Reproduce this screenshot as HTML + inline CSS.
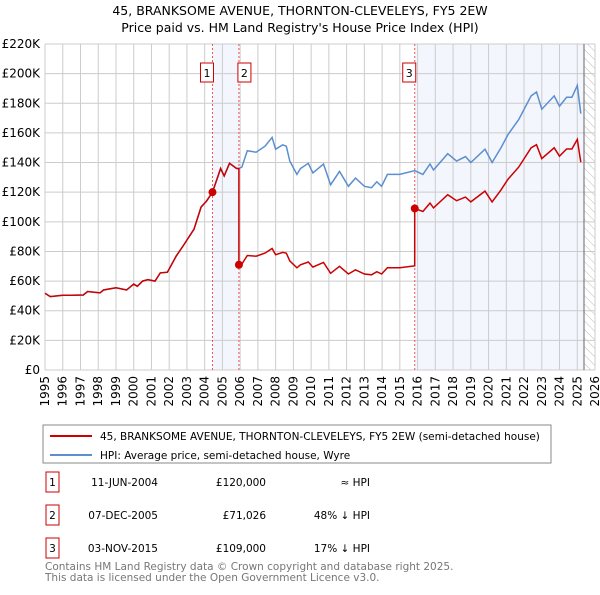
<!DOCTYPE html>
<html><head><meta charset="utf-8"><style>
body{margin:0;background:#fff;font-family:"Liberation Sans","DejaVu Sans",sans-serif;}
svg text{font-family:"DejaVu Sans","Liberation Sans",sans-serif;}
</style></head><body>
<svg id="chart" width="600" height="590" xmlns="http://www.w3.org/2000/svg">
<defs><pattern id="hatch" width="6" height="6" patternUnits="userSpaceOnUse" patternTransform="rotate(-45)"><line x1="0" y1="0" x2="0" y2="6" stroke="#bbb" stroke-width="1"/></pattern></defs>
<text x="300" y="15" text-anchor="middle" font-size="12.5" fill="#000">45, BRANKSOME AVENUE, THORNTON-CLEVELEYS, FY5 2EW</text>
<text x="300" y="32" text-anchor="middle" font-size="12.5" fill="#000">Price paid vs. HM Land Registry's House Price Index (HPI)</text>
<g id="bg"></g><g id="grid"></g><g id="series"></g><g id="axes"></g>
<rect x="43" y="425" width="508" height="38" fill="#fff" stroke="#888"/>
<line x1="50" y1="436" x2="92" y2="436" stroke="#cc0000" stroke-width="2"/>
<text x="100" y="440" font-size="10.5">45, BRANKSOME AVENUE, THORNTON-CLEVELEYS, FY5 2EW (semi-detached house)</text>
<line x1="50" y1="455" x2="92" y2="455" stroke="#5b8fd0" stroke-width="2"/>
<text x="100" y="459" font-size="10.5">HPI: Average price, semi-detached house, Wyre</text>
<g id="table" font-size="10.5"></g>
<text x="45" y="570" font-size="10.5" fill="#777">Contains HM Land Registry data © Crown copyright and database right 2025.</text>
<text x="45" y="581" font-size="10.5" fill="#777">This data is licensed under the Open Government Licence v3.0.</text>
</svg>
<script>
const hpiYears=[1995.0,1995.3,1996.0,1996.5,1997.16,1997.4,1998.1,1998.3,1999.0,1999.6,2000.0,2000.2,2000.5,2000.8,2001.2,2001.5,2001.9,2002.4,2002.8,2003.4,2003.8,2004.1,2004.44,2004.9,2005.1,2005.4,2005.8,2005.93,2006.1,2006.4,2006.9,2007.4,2007.8,2008.0,2008.4,2008.6,2008.8,2009.2,2009.4,2009.84,2010.1,2010.7,2011.1,2011.6,2012.1,2012.5,2013.0,2013.4,2013.7,2013.97,2014.3,2015.0,2015.84,2016.3,2016.7,2016.9,2017.7,2018.2,2018.7,2019.0,2019.8,2020.2,2020.7,2021.1,2021.7,2022.4,2022.7,2023.0,2023.7,2024.0,2024.4,2024.7,2025.0,2025.2];
const hpiValues=[51.8,49.5,50.5,50.5,50.6,53,52,54,55.5,54,58,56.5,60,61,60,65.5,66,77,84,95,110,114,120,136,131,139.5,136,136,137,148,147,151,157,149,152,151,141,132,136,139.5,133,139,125,134,124,129.5,124,123,127,124,132,132,134.5,132,139,135,146,141,144,140,149,140,150,159,169,185,187.6,176,185,178,184,184,192,173];
const saleYears=[2004.44,2005.93,2015.84];
const salePrices=[120,71.026,109];
const saleLabels=["1","2","3"];
const saleDates=["11-JUN-2004","07-DEC-2005","03-NOV-2015"];
const salePriceText=["£120,000","£71,026","£109,000"];
const saleHpiText=["≈ HPI","48% ↓ HPI","17% ↓ HPI"];
const yTicks=[0,20,40,60,80,100,120,140,160,180,200,220];
const xTicks=[1995,1996,1997,1998,1999,2000,2001,2002,2003,2004,2005,2006,2007,2008,2009,2010,2011,2012,2013,2014,2015,2016,2017,2018,2019,2020,2021,2022,2023,2024,2025,2026];
const dataEnd=2025.38;

const X0=45,X1=595,Y0=370,Y1=44;
const sx=y=>X0+(y-1995)/(2026-1995)*(X1-X0);
const sy=v=>Y0-v/220*(Y0-Y1);
const NS="http://www.w3.org/2000/svg";
function mk(parent,tag,attrs){const e=document.createElementNS(NS,tag);for(const k in attrs)e.setAttribute(k,attrs[k]);document.getElementById(parent).appendChild(e);return e;}
function hpiAt(t){for(let i=0;i<hpiYears.length-1;i++){if(t>=hpiYears[i]&&t<=hpiYears[i+1]){const f=(t-hpiYears[i])/(hpiYears[i+1]-hpiYears[i]);return hpiValues[i]+f*(hpiValues[i+1]-hpiValues[i]);}}return hpiValues[hpiValues.length-1];}

let r=mk('bg','rect',{x:sx(saleYears[0]),y:Y1,width:sx(saleYears[1])-sx(saleYears[0]),height:Y0-Y1,fill:'#f3f6fd'});

r=mk('bg','rect',{x:sx(saleYears[2]),y:Y1,width:sx(dataEnd)-sx(saleYears[2]),height:Y0-Y1,fill:'#f3f6fd'});

r=mk('bg','rect',{x:sx(dataEnd),y:Y1,width:X1-sx(dataEnd),height:Y0-Y1,fill:'url(#hatch)'});


yTicks.forEach(v=>{let l=mk('grid','line',{x1:X0,x2:X1,y1:sy(v),y2:sy(v),stroke:'#ccc','stroke-width':1});

let t=mk('axes','text',{x:X0-5,y:sy(v)+4,'text-anchor':'end','font-size':'12'});t.textContent=v===0?'£0':'£'+v+'K';
});
xTicks.forEach(y=>{let l=mk('grid','line',{x1:sx(y),x2:sx(y),y1:Y1,y2:Y0,stroke:'#ccc','stroke-width':1});

let t=mk('axes','text',{x:0,y:0,'text-anchor':'end','font-size':'12',transform:`translate(${sx(y)+4},${Y0+6}) rotate(-90)`});t.textContent=y;
});
let fl=mk('grid','line',{x1:sx(dataEnd),x2:sx(dataEnd),y1:Y1,y2:Y0,stroke:'#666','stroke-width':1});


saleYears.forEach((s,i)=>{let l=mk('series','line',{x1:sx(s),x2:sx(s),y1:Y1,y2:Y0,stroke:'#ee5555','stroke-width':1,'stroke-dasharray':'2,2'});

let b=mk('series','rect',{x:sx(s)-(i==1?1:12),y:63,width:13,height:19,fill:'#fff',stroke:'#cc0000'});

let t=mk('series','text',{x:sx(s)-(i==1?1:12)+6.5,y:77,'text-anchor':'middle','font-size':'11'});t.textContent=saleLabels[i];
});

let d=hpiYears.map((y,i)=>(i?'L':'M')+sx(y).toFixed(1)+','+sy(hpiValues[i]).toFixed(1)).join('');
let hp=mk('series','path',{d:d,fill:'none',stroke:'#5b8fd0','stroke-width':1.5});

let pts=[];
hpiYears.forEach((y,i)=>{let k=-1;for(let j=0;j<saleYears.length;j++)if(y>=saleYears[j])k=j;
let ratio=k<0?salePrices[0]/hpiAt(saleYears[0]):salePrices[k]/hpiAt(saleYears[k]);
if(k>=1&&Math.abs(y-saleYears[k])<1e-9){let pr=salePrices[k-1]/hpiAt(saleYears[k-1]);pts.push([y,hpiValues[i]*pr]);}
pts.push([y,hpiValues[i]*ratio]);
if(i<hpiYears.length-1){saleYears.forEach((s,j)=>{if(s>y&&s<hpiYears[i+1]&&j>0){let pr=salePrices[j-1]/hpiAt(saleYears[j-1]);pts.push([s,hpiAt(s)*pr]);pts.push([s,salePrices[j]]);}});}
});
d=pts.map((p,i)=>(i?'L':'M')+sx(p[0]).toFixed(1)+','+sy(p[1]).toFixed(1)).join('');
let pp=mk('series','path',{d:d,fill:'none',stroke:'#cc0000','stroke-width':1.5});

saleYears.forEach((s,i)=>{let c=mk('series','circle',{cx:sx(s),cy:sy(salePrices[i]),r:4,fill:'#cc0000'});
});

const rowsY=[482,515,548];
saleYears.forEach((s,i)=>{const y=rowsY[i];
let b=mk('table','rect',{x:46,y:y-10,width:13,height:20,fill:'#fff',stroke:'#cc0000'});

let t=mk('table','text',{x:52.5,y:y+4,'text-anchor':'middle'});t.textContent=saleLabels[i];

t=mk('table','text',{x:158,y:y+4,'text-anchor':'end'});t.textContent=saleDates[i];

t=mk('table','text',{x:266,y:y+4,'text-anchor':'end'});t.textContent=salePriceText[i];

t=mk('table','text',{x:370,y:y+4,'text-anchor':'end'});t.textContent=saleHpiText[i];
});
</script>
</body></html>
